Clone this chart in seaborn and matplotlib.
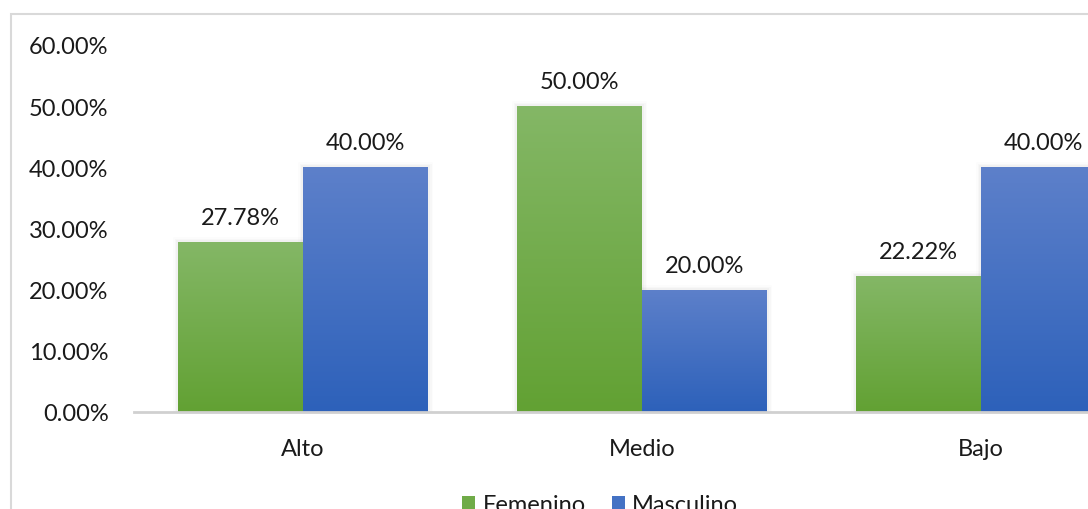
import numpy as np
import pandas as pd
import matplotlib
matplotlib.use("Agg")
import matplotlib.pyplot as plt
from matplotlib.patches import Patch, Rectangle
from matplotlib.colors import LinearSegmentedColormap
import seaborn as sns

# Data
categories = ["Alto", "Medio", "Bajo"]
series = ["Femenino", "Masculino"]
femenino = [27.78, 50.00, 22.22]
masculino = [40.00, 20.00, 40.00]
y_ticks = [0, 10, 20, 30, 40, 50, 60]

df = pd.DataFrame({
    "nivel": categories * 2,
    "sexo": [series[0]] * 3 + [series[1]] * 3,
    "valor": femenino + masculino,
})

# Gradient colours (top, bottom) per series
grad = {
    "Femenino": ("#84b766", "#62a133"),
    "Masculino": ("#5d80ca", "#2d61ba"),
}
flat = {"Femenino": "#70ab48", "Masculino": "#4472c4"}

sns.set_theme(style="white")
plt.rcParams["font.family"] = ["Lato", "DejaVu Sans"]

W, H = 1088, 510
fig = plt.figure(figsize=(W / 100, H / 100), dpi=100)
fig.patch.set_facecolor("white")

# Chart frame
fig.add_artist(Rectangle((11 / W, -0.2), 1.2, 1 - 15 / H + 0.2,
                         transform=fig.transFigure, fill=False,
                         edgecolor="#d9d9d9", linewidth=1.5, zorder=0))

left, right = 133.5, 1150.5
bottom, top = 413, 46
ax = fig.add_axes([left / W, 1 - bottom / H, (right - left) / W, (bottom - top) / H])

sns.barplot(data=df, x="nivel", y="valor", hue="sexo", order=categories,
            hue_order=series, palette=flat, width=0.735, gap=0,
            legend=False, ax=ax, saturation=1)

ax.set_ylim(0, 60)
ax.set_yticks(y_ticks)
ax.set_yticklabels([f"{t:.2f}%" for t in y_ticks])
ax.set_xlabel("")
ax.set_ylabel("")
ax.tick_params(axis="y", length=0, pad=18, labelsize=17, labelcolor="#1a1a1a")
ax.tick_params(axis="x", length=0, pad=19, labelsize=17, labelcolor="#1a1a1a")
for s in ["left", "right", "top"]:
    ax.spines[s].set_visible(False)
ax.spines["bottom"].set_color("#d0d0d0")
ax.spines["bottom"].set_linewidth(2)
ax.spines["bottom"].set_zorder(5)
ax.grid(False)

# Gradient fill and soft shadow for each bar
xlim = ax.get_xlim()
for container, name in zip(ax.containers, series):
    top_c, bot_c = grad[name]
    cmap = LinearSegmentedColormap.from_list(name, [bot_c, top_c])
    for bar in container:
        x0, y0 = bar.get_x(), bar.get_y()
        w, h = bar.get_width(), bar.get_height()
        for k, a in [(7, 0.012), (5, 0.018), (3, 0.025)]:
            sh = Rectangle((x0, y0), w, h, facecolor=(0, 0, 0, 0),
                           edgecolor=(0, 0, 0, a), linewidth=k, zorder=1)
            ax.add_patch(sh)
        g = np.linspace(0, 1, 256).reshape(-1, 1)
        im = ax.imshow(g, cmap=cmap, origin="lower", aspect="auto",
                       extent=(x0, x0 + w, y0, y0 + h), zorder=2,
                       interpolation="bilinear")
        im.set_clip_path(bar)
        bar.set_facecolor("none")
        bar.set_edgecolor("none")
        bar.set_zorder(2)
    ax.bar_label(container, labels=[f"{v:.2f}%" for v in container.datavalues],
                 padding=10, fontsize=17, color="#1a1a1a")
ax.set_xlim(xlim)
ax.set_ylim(0, 60)

handles = [Patch(facecolor=flat[s], edgecolor="none") for s in series]
fig.legend(handles, series, loc="center", bbox_to_anchor=(600 / W, 1 - 506 / H),
           ncol=2, frameon=False, fontsize=17, handlelength=0.55,
           handleheight=0.55, handletextpad=0.3, columnspacing=1.1,
           labelcolor="#1a1a1a")

fig.savefig("out.png", dpi=100)
